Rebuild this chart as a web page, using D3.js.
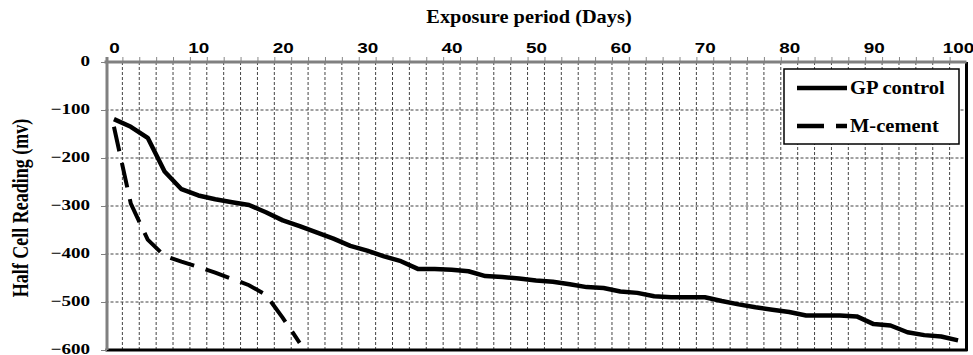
<!DOCTYPE html>
<html>
<head>
<meta charset="utf-8">
<script src="https://cdn.jsdelivr.net/npm/d3@7"></script>
<style>
    body { margin: 0; background: #fff; }
    svg { display: block; }
</style>
</head>
<body>
<div id="chart"></div>
<script>
// GP control readings (every 2 days)
let gpDays = [0, 2, 4, 6, 8, 10, 12, 14, 16, 18, 20, 22, 24, 26, 28, 30, 32, 34, 36, 38, 40,
    42, 44, 46, 48, 50, 52, 54, 56, 58, 60, 62, 64, 66, 68, 70, 72, 74, 76, 78, 80,
    82, 84, 86, 88, 90, 92, 94, 96, 98, 100];
let gpControl = [-119, -135, -158, -228, -265, -278, -286, -292, -298, -313, -330, -342, -355, -368, -383, -393, -405, -415, -431, -431, -433,
    -436, -446, -448, -451, -455, -458, -463, -469, -471, -478, -481, -488, -490, -490, -490, -498, -505, -511, -516, -521,
    -528, -528, -528, -530, -546, -549, -563, -569, -572, -580];

// M-cement readings
let mDays = [0, 2, 4, 6, 8, 10, 12, 14, 16, 18, 20, 22];
let mCement = [-135, -295, -370, -404, -416, -427, -439, -452, -465, -485, -533, -585];

// axis ticks
let xLabels = [0, 10, 20, 30, 40, 50, 60, 70, 80, 90, 100];
let xGrid = [1, 3, 5, 7, 9, 11, 13, 15, 17, 19, 21, 23, 25, 27, 29, 31, 33, 35, 37, 39, 41, 43, 45, 47, 49,
    51, 53, 55, 57, 59, 61, 63, 65, 67, 69, 71, 73, 75, 77, 79, 81, 83, 85, 87, 89, 91, 93, 95, 97, 99];
let yTicks = [0, -100, -200, -300, -400, -500, -600];
let yGrid = [-100, -200, -300, -400, -500];

let w = 973, h = 355;
// plot area edges
let pLeft = 105.5, pRight = 966.5, pTop = 62, pBottom = 350;
let serif = "'Liberation Serif', 'Times New Roman', serif";
let sans = "'Liberation Sans', Arial, sans-serif";

let xScale = d3.scaleLinear().domain([-1, 101]).range([pLeft, pRight]);
let yScale = d3.scaleLinear().domain([-600, 0]).range([pBottom, pTop]);

let svg = d3.select("#chart")
    .append("svg")
    .attr("width", w)
    .attr("height", h)
    .style("background", "#fff");

// grid lines
svg.append("g")
    .selectAll("line")
    .data(xGrid)
    .join("line")
    .attr("x1", d => xScale(d)).attr("x2", d => xScale(d))
    .attr("y1", pTop).attr("y2", pBottom)
    .attr("stroke", "#444")
    .attr("stroke-width", 1)
    .attr("stroke-dasharray", "3,2");

svg.append("g")
    .selectAll("line")
    .data(yGrid)
    .join("line")
    .attr("x1", pLeft).attr("x2", pRight)
    .attr("y1", d => yScale(d)).attr("y2", d => yScale(d))
    .attr("stroke", "#444")
    .attr("stroke-width", 1)
    .attr("stroke-dasharray", "3,2");

// lines
let line = d3.line()
    .x(d => xScale(d[0]))
    .y(d => yScale(d[1]));

svg.append("path")
    .datum(d3.zip(gpDays, gpControl))
    .attr("d", line)
    .attr("fill", "none")
    .attr("stroke", "#000")
    .attr("stroke-width", 4.5)
    .attr("stroke-linejoin", "round");

svg.append("path")
    .datum(d3.zip(mDays, mCement))
    .attr("d", line)
    .attr("fill", "none")
    .attr("stroke", "#000")
    .attr("stroke-width", 4)
    .attr("stroke-dasharray", "25,12");

// plot border (bottom, right)
svg.append("line")
    .attr("x1", pLeft).attr("x2", pRight + 1)
    .attr("y1", pBottom).attr("y2", pBottom)
    .attr("stroke", "#000").attr("stroke-width", 3);
svg.append("line")
    .attr("x1", pRight).attr("x2", pRight)
    .attr("y1", pTop).attr("y2", pBottom + 1)
    .attr("stroke", "#000").attr("stroke-width", 3);

// top axis: minor ticks on odd days, labels every 10
let xMinor = d3.axisTop(xScale).tickValues(xGrid).tickFormat("").tickSize(5);
svg.append("g")
    .attr("transform", "translate(0," + pTop + ")")
    .call(xMinor)
    .call(g => g.select(".domain").remove())
    .selectAll("line").attr("stroke", "#888");

let xAxis = d3.axisTop(xScale).tickValues(xLabels).tickSize(0).tickPadding(9);
let gx = svg.append("g")
    .attr("transform", "translate(0," + pTop + ")")
    .call(xAxis);
gx.select(".domain").remove();
gx.selectAll("text")
    .attr("font-family", sans)
    .attr("font-weight", "bold")
    .attr("font-size", 14)
    .attr("fill", "#000")
    .attr("transform", "scale(1.35,1)");

svg.append("line")
    .attr("x1", pLeft - 1).attr("x2", pRight)
    .attr("y1", pTop).attr("y2", pTop)
    .attr("stroke", "#808080").attr("stroke-width", 3);

// left axis
let yAxis = d3.axisLeft(yScale).tickValues(yTicks).tickSize(6).tickPadding(0);
let gy = svg.append("g")
    .attr("transform", "translate(" + (pLeft + 1.5) + ",0)")
    .call(yAxis);
gy.select(".domain").remove();
gy.selectAll("line").attr("stroke", "#808080");
gy.selectAll("text")
    .attr("x", -13.4)
    .attr("dy", "0.26em")
    .attr("font-family", serif)
    .attr("font-weight", "bold")
    .attr("font-size", 15)
    .attr("fill", "#000")
    .attr("transform", "scale(1.27,1)");

svg.append("line")
    .attr("x1", pLeft + 1.5).attr("x2", pLeft + 1.5)
    .attr("y1", pTop - 5).attr("y2", pBottom)
    .attr("stroke", "#808080").attr("stroke-width", 3);

// axis titles
svg.append("text")
    .attr("transform", "translate(529,23) scale(1.1,1)")
    .attr("text-anchor", "middle")
    .attr("font-family", serif)
    .attr("font-weight", "bold")
    .attr("font-size", 18.5)
    .text("Exposure period (Days)");

svg.append("text")
    .attr("transform", "translate(28,208) scale(1.3,1) rotate(-90)")
    .attr("text-anchor", "middle")
    .attr("font-family", serif)
    .attr("font-weight", "bold")
    .attr("font-size", 18)
    .text("Half Cell Reading (mv)");

// legend
let legend = svg.append("g");
legend.append("rect")
    .attr("x", 784).attr("y", 69)
    .attr("width", 175).attr("height", 75)
    .attr("fill", "#fff")
    .attr("stroke", "#000")
    .attr("stroke-width", 1.5);

let items = [
    { name: "GP control", dash: null, y: 88 },
    { name: "M-cement", dash: "27,12", y: 126 }
];
items.forEach(it => {
    legend.append("line")
        .attr("x1", 797).attr("x2", 847)
        .attr("y1", it.y).attr("y2", it.y)
        .attr("stroke", "#000")
        .attr("stroke-width", 4.5)
        .attr("stroke-dasharray", it.dash);
    legend.append("text")
        .attr("transform", "translate(850," + (it.y + 5.5) + ") scale(1.11,1)")
        .attr("font-family", serif)
        .attr("font-weight", "bold")
        .attr("font-size", 18.5)
        .text(it.name);
});
</script>
</body>
</html>
